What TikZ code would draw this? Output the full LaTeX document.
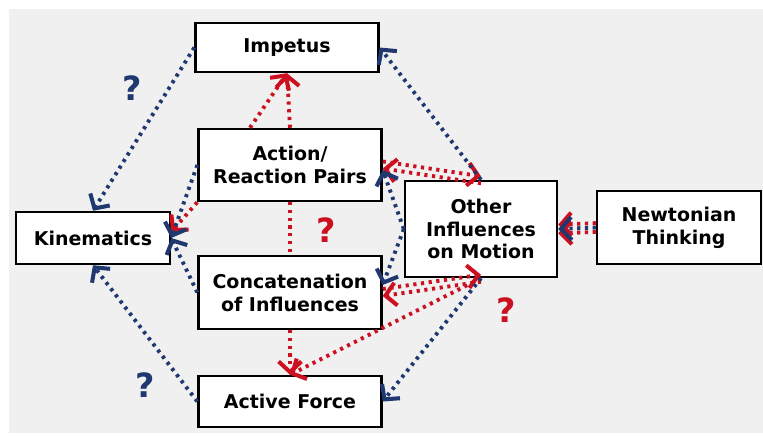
\documentclass[tikz,border=0pt]{standalone}
\usepackage{fontspec}
\setmainfont{DejaVu Sans}
\usetikzlibrary{arrows.meta}

\definecolor{navy}{RGB}{31,56,112}
\definecolor{crimson}{RGB}{204,16,32}
\definecolor{bggray}{RGB}{240,240,240}

\begin{document}
\begin{tikzpicture}[
    x=0.02cm, y=-0.02cm,
    box/.style={rectangle, draw=black, fill=white, line width=1.4pt, align=center, inner sep=0pt, font=\bfseries\fontsize{10.8}{13}\selectfont},
    link/.style={line width=2.2pt, dash pattern=on 1.8pt off 2.6pt, -{Straight Barb[length=6pt,width=13pt,line width=2.3pt]}},
    bluelink/.style={link, draw=navy},
    redlink/.style={link, draw=crimson},
    qmark/.style={font=\bfseries\fontsize{19}{22}\selectfont}
]

\useasboundingbox (0,0) rectangle (763,436);
\fill[bggray] (9,9) rectangle (763,433);

% Boxes
\node[box, minimum width=3.66cm, minimum height=0.98cm] (impetus) at (287,47.5) {Impetus};
\node[box, minimum width=3.66cm, minimum height=1.44cm] (action) at (290,165) {Action/\\Reaction Pairs};
\node[box, minimum width=3.08cm, minimum height=1.04cm] (kinematics) at (93,238) {Kinematics};
\node[box, minimum width=3.66cm, minimum height=1.46cm] (concat) at (290,292.5) {Concatenation\\of Influences};
\node[box, minimum width=3.66cm, minimum height=1.02cm] (active) at (290,401.5) {Active Force};
\node[box, minimum width=3.04cm, minimum height=1.92cm] (other) at (481,229) {Other\\Influences\\on Motion};
\node[box, minimum width=3.28cm, minimum height=1.46cm] (newton) at (679,227.5) {Newtonian\\Thinking};

% Question marks
\node[qmark, text=navy] (q1) at (132,88) {?};
\node[qmark, text=crimson] (q2) at (326,230) {?};
\node[qmark, text=navy] (q3) at (145,385) {?};
\node[qmark, text=crimson] (q4) at (506,310) {?};

% Red connections
\draw[redlink] (action.north) -- (impetus.south);
\draw[redlink] ([xshift=-0.8cm]action.north) -- (impetus.south);
\draw[redlink, -] (action.south) -- (concat.north);
\draw[redlink] (concat.south) -- (active.north);
\draw[redlink] (other.south) -- (active.north);
\draw[redlink] (action.south west) -- ([yshift=0.12cm]kinematics.east);
\draw[redlink] ([yshift=2pt]action.east) -- ([yshift=2pt]other.north);
\draw[redlink] ([yshift=-2pt]other.north) -- ([yshift=-2pt]action.east);
\draw[redlink] ([yshift=2pt]concat.east) -- ([yshift=2pt]other.south);
\draw[redlink] ([yshift=-2pt]other.south) -- ([yshift=-2pt]concat.east);
\draw[redlink] ([yshift=2.5pt]newton.west) -- ([yshift=2.5pt]other.east);
\draw[redlink] ([yshift=-2.5pt]newton.west) -- ([yshift=-2.5pt]other.east);

% Blue connections
\draw[bluelink] (impetus.west) -- (kinematics.north);
\draw[bluelink] (active.west) -- (kinematics.south);
\draw[bluelink] (action.west) -- (kinematics.east);
\draw[bluelink] (concat.west) -- (kinematics.east);
\draw[bluelink] (other.north) -- (impetus.east);
\draw[bluelink] (other.south) -- (active.east);
\draw[bluelink] (other.west) -- ([yshift=-0.1cm]action.east);
\draw[bluelink] (other.west) -- ([yshift=0.15cm]concat.east);
\draw[bluelink] (newton.west) -- (other.east);

\end{tikzpicture}
\end{document}
